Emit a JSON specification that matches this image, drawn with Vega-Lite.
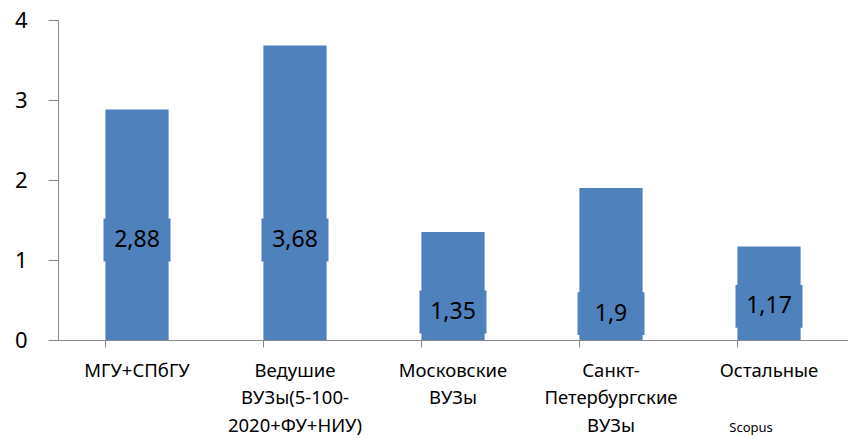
{
  "$schema": "https://vega.github.io/schema/vega-lite/v6.json",
  "width": 790,
  "height": 320,
  "autosize": {"type": "none"},
  "padding": {"left": 58, "top": 20, "right": 0, "bottom": 99},
  "background": "white",
  "config": {"view": {"stroke": null}, "font": "Noto Sans"},
  "data": {
    "values": [
      {"group": "МГУ+СПбГУ", "value": 2.88, "label": "2,88", "label_at": 1.25},
      {"group": "Ведушие|ВУЗы(5-100-|2020+ФУ+НИУ)", "value": 3.68, "label": "3,68", "label_at": 1.25},
      {"group": "Московские|ВУЗы", "value": 1.35, "label": "1,35", "label_at": 0.35},
      {"group": "Санкт-|Петербургские|ВУЗы", "value": 1.9, "label": "1,9", "label_at": 0.33},
      {"group": "Остальные", "value": 1.17, "label": "1,17", "label_at": 0.42}
    ]
  },
  "encoding": {
    "x": {
      "field": "group",
      "type": "nominal",
      "sort": null,
      "scale": {"paddingInner": 0.6, "paddingOuter": 0.3},
      "axis": {
        "title": null,
        "labelAngle": 0,
        "labelExpr": "split(datum.label, '|')",
        "labelFontSize": 18.5,
        "labelLineHeight": 27.5,
        "labelColor": "#000000",
        "labelPadding": 14,
        "labelBaseline": "top",
        "labelLimit": 0,
        "bandPosition": 0,
        "tickSize": 7,
        "tickColor": "#888888",
        "domainColor": "#888888",
        "grid": false
      }
    }
  },
  "resolve": {"axis": {"y": "independent"}},
  "layer": [
    {
      "mark": {"type": "bar", "color": "#4F81BD"},
      "encoding": {
        "y": {
          "field": "value",
          "type": "quantitative",
          "scale": {"domain": [0, 4]},
          "axis": {
            "title": null,
            "values": [0, 1, 2, 3, 4],
            "format": "d",
            "labelFontSize": 22,
            "labelColor": "#000000",
            "labelPadding": 21,
            "tickSize": 10,
            "tickColor": "#888888",
            "domainColor": "#888888",
            "grid": false
          }
        }
      }
    },
    {
      "mark": {"type": "point", "shape": "M-1,-0.64H1V0.64H-1Z", "filled": true, "opacity": 1, "color": "#4F81BD", "size": 4489},
      "encoding": {
        "y": {"field": "label_at", "type": "quantitative", "axis": null}
      }
    },
    {
      "mark": {"type": "text", "fontSize": 23, "color": "#000000", "baseline": "middle"},
      "encoding": {
        "y": {"field": "label_at", "type": "quantitative", "axis": null},
        "text": {"field": "label"}
      }
    },
    {
      "data": {"values": [{"note": "Scopus"}]},
      "mark": {"type": "text", "fontSize": 13, "color": "#000000", "baseline": "middle", "clip": false, "xOffset": -18},
      "encoding": {
        "x": {"datum": "Остальные"},
        "y": {"datum": -1.1, "axis": null},
        "text": {"field": "note"}
      }
    }
  ]
}
